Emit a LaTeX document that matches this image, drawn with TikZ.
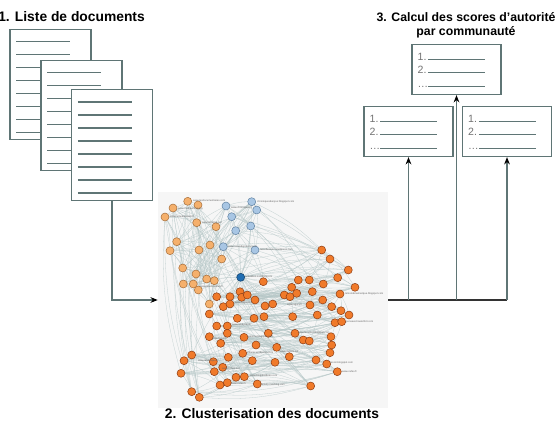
\documentclass[tikz,border=0pt]{standalone}
\usepackage{fontspec}
\setmainfont{Liberation Sans}
\usepackage{tikz}
\usetikzlibrary{arrows.meta,positioning,calc}

\definecolor{docgray}{HTML}{5F7575}
\definecolor{edgegray}{HTML}{B4C6C6}
\definecolor{graphbg}{HTML}{F6F6F6}
\definecolor{orfill}{HTML}{F07A2A}
\definecolor{ordraw}{HTML}{8A3A12}
\definecolor{lofill}{HTML}{F5B06C}
\definecolor{lodraw}{HTML}{A36A36}
\definecolor{lbfill}{HTML}{A8C6E4}
\definecolor{lbdraw}{HTML}{5E7F9F}
\definecolor{dbfill}{HTML}{1F6DB2}
\definecolor{dbdraw}{HTML}{0F3D66}

% sommets du graphe : x/y/style
\newcommand{\graphnodes}{%
187.7/201.3/lorange, 198/205/lorange, 173/208/lorange, 165/217/lorange, 196.7/222.7/lorange,
216/226.7/lorange, 176.7/241.7/lorange, 210/245/lorange, 170/250.7/lorange, 199/250/lorange,
221.7/259/lorange, 182.7/268/lorange, 196/274/lorange, 206.7/279/lorange, 214.3/280.7/lorange,
183.3/284/lorange, 193.3/284/lorange, 198.3/290/lorange, 209.3/304/lorange,
226/206/lblue, 251.7/201.7/lblue, 256.7/210/lblue, 231.7/216.7/lblue, 235.7/230.7/lblue,
250.7/226/lblue, 223.3/246.7/lblue, 255/250/lblue,
240.7/277.3/hub,
321.7/250/orange, 330/259/orange, 348.3/270/orange, 263.3/281.7/orange, 298.3/280/orange,
309.3/280/orange, 323.3/284/orange, 337.7/277.7/orange, 355/287.3/orange, 291.7/287.3/orange,
284.3/295/orange, 216.7/296.7/orange, 230/296.7/orange, 240/291.7/orange, 241.7/297.3/orange,
247.3/295/orange, 223.3/306.7/orange, 230/304/orange, 255/300/orange, 265/306/orange,
272.7/304/orange, 290/296.7/orange, 296.7/293.3/orange, 312.3/291.7/orange, 310/305/orange,
322.7/300/orange, 340/294/orange, 331.7/306.7/orange, 341/310.7/orange, 349/315/orange,
209.3/314/orange, 237.3/318.3/orange, 254/318.3/orange, 264/316.7/orange, 292.7/316.7/orange,
317.3/315/orange, 335/322.7/orange, 341.7/321.7/orange, 216.7/326/orange, 227.3/326/orange,
268.3/333.3/orange, 295/333.3/orange, 303.3/340/orange, 309.3/341/orange, 331/336.7/orange,
331.7/345/orange, 209.3/336.7/orange, 227.3/333.3/orange, 220.7/343.3/orange, 244/337.3/orange,
256/345/orange, 276.7/347.3/orange, 289.3/356.7/orange, 330/352.7/orange, 316/360/orange,
326.7/364/orange, 191.7/355/orange, 184/360.7/orange, 213.3/361.7/orange, 228.3/357.3/orange,
242.7/353.3/orange, 252.3/360.7/orange, 275/362.3/orange, 214.3/371.7/orange, 222.7/367.3/orange,
181/373.3/orange, 236/377.3/orange, 244.3/376.7/orange, 337.3/371.7/orange, 227.3/382.7/orange,
220/385/orange, 257.3/384/orange, 310.7/386/orange, 191.7/391.7/orange, 199.3/397.3/orange}

\begin{document}
\begin{tikzpicture}[
    x=0.03cm, y=-0.03cm,
    doc/.style={rectangle, draw=docgray, line width=1pt, fill=white, minimum width=2.43cm, minimum height=3.32cm, inner sep=0pt},
    docrule/.style={draw=docgray, line width=1pt},
    rankbox/.style={rectangle, draw=docgray, line width=1pt, fill=white, minimum width=2.67cm, minimum height=1.5cm, inner sep=0pt},
    ranknum/.style={font=\fontsize{9}{9}\selectfont, text=black!55, anchor=base west, inner sep=0pt},
    rankrule/.style={draw=docgray, line width=0.8pt},
    title/.style={font=\bfseries\fontsize{11.8}{12.5}\selectfont, align=center, inner sep=0pt},
    arrow/.style={-{Stealth[length=2.2mm, width=1.7mm, color=black]}, line width=0.9pt, draw=docgray},
    flow/.style={line width=0.9pt, draw=black!80},
    edge/.style={draw=edgegray, line width=0.25pt, opacity=0.75},
    vertex/.style={circle, line width=0.4pt, minimum size=0.24cm, inner sep=0pt},
    lorange/.style={fill=lofill, draw=lodraw},
    lblue/.style={fill=lbfill, draw=lbdraw},
    hub/.style={fill=dbfill, draw=dbdraw},
    orange/.style={fill=orfill, draw=ordraw},
    urltag/.style={font=\fontsize{2.2}{2.4}\selectfont, text=black!60, anchor=west, inner sep=0pt}
]
    \useasboundingbox (0,0) rectangle (559,422);

    % --- 1. DOCUMENTS ---
    \node[title, anchor=east] (tlist) at (145,17) {1. Liste de documents};
    \foreach \d/\cx/\cy in {doc1/50.5/84.5, doc2/81.5/115.5, doc3/112/145} {
        \node[doc] (\d) at (\cx,\cy) {};
        \foreach \k in {1,...,8}
            \draw[docrule] ($(\d.north west)+(7,13*\k)$) -- ++(54,0);
    }

    % --- 2. GRAPHE ---
    \node[fill=graphbg, minimum width=6.9cm, minimum height=6.48cm, inner sep=0pt] (graph) at (273,300) {};
    \foreach \px/\py/\t [count=\i] in \graphnodes
        \coordinate (v\i) at (\px,\py);
    \foreach \i in {1,...,103} {
        \foreach \k in {1,2,3,5,8,13} {
            \pgfmathtruncatemacro\j{mod(\i+\k-1,103)+1}
            \draw[edge] (v\i) to[bend left=10] (v\j);
        }
    }
    \foreach \i in {1,5,...,103}
        \draw[edge] (v28) to[bend right=8] (v\i);
    \foreach \px/\py/\t [count=\i] in \graphnodes
        \node[vertex, \t] (n\i) at (\px,\py) {};

    % etiquettes des sommets
    \foreach \px/\py/\txt in {193/201/www.lesdocumentaires.com, 178/209/www.mediasinfos.org,
        170/217/www.actualitesweb.fr, 202/223/www.infoblog.net, 231/208/www.chroniques.fr,
        257/202/chroniquesdunjour.blogspot.com, 228/247/www.revuedepresse.com,
        260/250/lesreflexions.wordpress.com, 245/277/actualites.overblog.com,
        200/287/www.lesnouvelles.fr, 235/303/www.regards.fr, 345/294/lemondenumerique.blogspot.com,
        346/322/pensees.hautetfort.com, 298/333/www.lecarnet.blogspot.com, 280/352/www.debats.net,
        330/363/lecoin.blogspot.com, 342/372/www.cafes.fr, 287/305/www.agora.fr,
        232/325/www.analyses.fr, 212/339/www.forum.fr, 247/337/opinions.blogspot.com,
        247/353/tribune.wordpress.com, 198/361/www.lafabrique.fr, 222/369/www.echos.net,
        250/376/www.blogdesidees.com, 231/384/www.notes.fr, 260/385/carnets.overblog.com}
        \node[urltag] at (\px,\py) {\txt};
    \node[title] (tclust) at (272,414) {2. Clusterisation des documents};

    % --- 3. SCORES ---
    \node[title, font=\bfseries\fontsize{10.5}{12}\selectfont] (tscore) at (466,25) {3. Calcul des scores d'autorit\'e\\par communaut\'e};
    \foreach \b/\cx/\cy in {rtop/456.5/69.5, rleft/408.5/131.5, rright/507/131.5} {
        \node[rankbox] (\b) at (\cx,\cy) {};
        \foreach \y/\n in {16/1., 29/2., 43/{\ldots}} {
            \node[ranknum] at ($(\b.north west)+(6,\y+1)$) {\n};
            \draw[rankrule] ($(\b.north west)+(17,\y)$) -- ++(57,0);
        }
    }

    % --- CONNECTEURS ---
    \draw[arrow] (doc3.south) |- (graph.west);
    \draw[flow] (graph.east) -- (rright.south |- graph.east);
    \foreach \b in {rleft,rtop,rright}
        \draw[arrow] (\b.south |- graph.east) -- (\b.south);

\end{tikzpicture}
\end{document}
